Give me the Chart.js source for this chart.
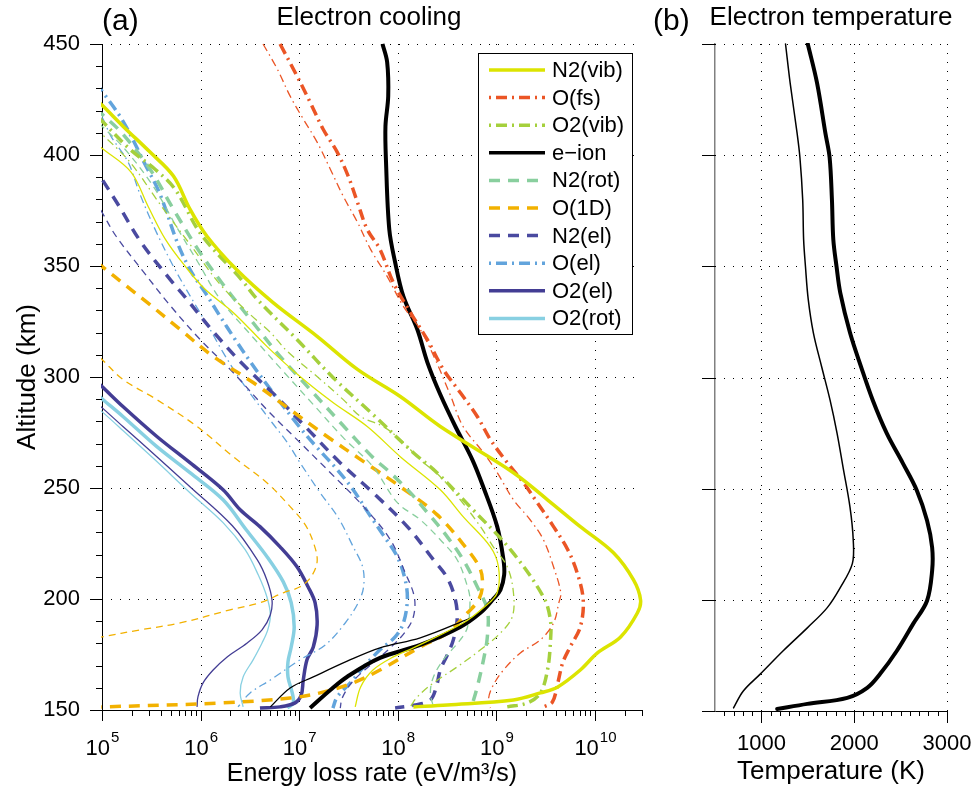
<!DOCTYPE html>
<html>
<head>
<meta charset="utf-8">
<script src="https://cdn.jsdelivr.net/npm/chart.js@4.4.0/dist/chart.umd.min.js"></script>
<style>
  body { margin: 0; background: #fff; width: 975px; height: 804px; overflow: hidden; position: relative; }
  canvas { position: absolute; top: 0; }
  #cooling { left: 0; }
  #temp { left: 640px; }
</style>
</head>
<body>
<canvas id="cooling" width="660" height="804"></canvas>
<canvas id="temp" width="335" height="804"></canvas>
<script>
"use strict";

// ---- panel (a): cooling rates, eV/m^3/s vs altitude (km); thick and thin profiles ----
const seriesNames = ['N2(vib)', 'O(fs)', 'O2(vib)', 'e\u2212ion', 'N2(rot)', 'O(1D)', 'N2(el)', 'O(el)', 'O2(el)', 'O2(rot)'];
const seriesColors = ['#dce400', '#eb5525', '#a5d03c', '#000000', '#89cf9e', '#f2b100', '#4a4aa0', '#62a4dc', '#433d94', '#88d0e2'];
const seriesStyles = ['solid', 'dashdot', 'dashdot', 'solid', 'dashed', 'dashed', 'dashed', 'dashdot', 'solid', 'solid'];

const n2vibThickAlt = [431, 422.5, 413, 401.3, 390.5, 375.6, 363.4, 348.5, 333.6, 318.3, 303.4, 291.2, 277.7, 256.9, 244.7, 232.6, 220.8, 208.6, 199.6, 193.8, 182.9, 175.7, 168, 160.4, 157.7, 154.5, 152.3, 151.4];
const n2vibThick = [6.3e4, 1.0e5, 1.63e5, 3.07e5, 5.3e5, 7.8e5, 1.16e6, 2.3e6, 5.4e6, 1.52e7, 3.9e7, 1.06e8, 2.7e8, 1.49e9, 3.3e9, 7.1e9, 1.54e10, 2.46e10, 2.9e10, 2.7e10, 1.82e10, 1.06e10, 7.1e9, 4.2e9, 2.8e9, 1.49e9, 3.18e8, 1.44e8];
const n2vibThinAlt = [410, 403, 392.3, 376.9, 362, 349.8, 339.5, 329.1, 313.8, 300.2, 288.5, 277.7, 264.1, 249.2, 237.1, 223.5, 214.5, 202.8, 196.5, 189.2, 178, 173.9, 168, 160.4, 151.4];
const n2vibThin = [6.3e4, 1.0e5, 1.97e5, 2.93e5, 4.4e5, 7.0e5, 1.11e6, 2.14e6, 4.7e6, 1.02e7, 2.2e7, 4.9e7, 1.06e8, 2.7e8, 4.6e8, 8.7e8, 1.05e9, 1.02e9, 7.6e8, 4.6e8, 1.44e8, 9.0e7, 5.6e7, 4.2e7, 3.7e7];

const ofsThickAlt = [450, 435.6, 423.8, 411.6, 401.3, 390.5, 378.7, 366.5, 357.5, 342.6, 329.1, 316.9, 303.4, 293, 282.2, 271.8, 261.4, 252.4, 243.4, 232.6, 222.2, 211.8, 199.6, 187.4, 178.4, 171.2, 162.2, 153.6, 151.4];
const ofsThick = [6.4e6, 9.5e6, 1.29e7, 1.75e7, 2.43e7, 3.14e7, 3.9e7, 4.9e7, 6.6e7, 9.0e7, 1.34e8, 1.99e8, 2.9e8, 4.3e8, 6.4e8, 8.7e8, 1.29e9, 1.88e9, 2.6e9, 3.8e9, 5.3e9, 6.6e9, 7.6e9, 7.1e9, 5.6e9, 4.7e9, 4.2e9, 3.7e9, 3.0e9];
const ofsThinAlt = [450, 438.7, 426.5, 416.2, 405.8, 393.6, 381.4, 369.7, 357.5, 345.3, 331.8, 321.4, 307.9, 292, 277.7, 265.9, 256.9, 244.7, 235.7, 226.7, 214.5, 202.8, 198.3, 189.2, 181.6, 175.7, 168, 160.4, 154.5, 150.9];
const ofsThin = [4.3e6, 6.0e6, 8.1e6, 1.10e7, 1.52e7, 2.07e7, 2.8e7, 3.9e7, 5.3e7, 7.8e7, 1.14e8, 1.69e8, 2.4e8, 3.4e8, 4.6e8, 7.4e8, 1.02e9, 1.49e9, 2.2e9, 3.0e9, 3.8e9, 4.5e9, 4.3e9, 3.8e9, 2.8e9, 1.75e9, 1.18e9, 9.1e8, 8.3e8, 8.7e8];

const o2vibThickAlt = [424, 415.3, 402.6, 393.6, 384.6, 364.3, 344, 335, 316.9, 299.8, 283.1, 265.9, 256.9, 241.6, 222.2, 201, 190.6, 180.2, 168, 157.7, 153.2, 151.4];
const o2vibThick = [6.3e4, 1.0e5, 1.92e5, 3.45e5, 5.5e5, 1.01e6, 2.58e6, 3.75e6, 9.5e6, 2.2e7, 5.6e7, 1.44e8, 2.5e8, 5.4e8, 1.39e9, 3.0e9, 3.53e9, 3.53e9, 3.3e9, 2.8e9, 2.07e9, 1.29e9];
const o2vibThinAlt = [418, 409.4, 396.8, 377.8, 359.8, 341.7, 328.2, 320.1, 311.5, 300.2, 289.8, 282.2, 277.7, 271.8, 262.8, 255.1, 244.7, 232.6, 223.5, 214.5, 202.8, 192, 184.7, 177.1, 169.4, 162.2, 155.9, 151.4];
const o2vibThin = [6.3e4, 1.0e5, 1.92e5, 3.88e5, 7.8e5, 1.58e6, 3.18e6, 5.1e6, 7.6e6, 1.52e7, 2.8e7, 4.2e7, 7.1e7, 1.06e8, 1.69e8, 2.7e8, 4.3e8, 6.9e8, 9.3e8, 1.29e9, 1.49e9, 1.45e9, 1.10e9, 6.9e8, 4.0e8, 2.3e8, 1.58e8, 1.34e8];

const eionThickAlt = [450, 441.9, 426.5, 413, 396.8, 366.5, 351.7, 336.3, 321.4, 306.5, 292.1, 277.7, 262.8, 250.2, 232.6, 217.7, 210.9, 204.1, 200, 193.8, 187.4, 179.3, 173.5, 165, 159, 150.9];
const eionThick = [7.0e7, 7.8e7, 8.0e7, 7.5e7, 7.6e7, 8.2e7, 9.4e7, 1.14e8, 1.58e8, 2.0e8, 2.7e8, 3.84e8, 5.7e8, 7.4e8, 1.02e9, 1.18e9, 1.2e9, 1.1e9, 9.3e8, 6.9e8, 4.3e8, 1.69e8, 6.6e7, 3.07e7, 2.07e7, 1.29e7];
const eionThinAlt = [450, 441.9, 426.5, 413, 396.8, 366.5, 351.7, 336.3, 321.4, 306.5, 292.1, 277.7, 262.8, 250.2, 232.6, 217.7, 210.9, 204.1, 200, 193.8, 189.7, 182.5, 178, 172, 164.9, 159.9, 151.4];
const eionThin = [7.0e7, 7.7e7, 7.9e7, 7.5e7, 7.6e7, 8.1e7, 9.3e7, 1.13e8, 1.56e8, 2.0e8, 2.7e8, 3.8e8, 5.6e8, 7.3e8, 1.0e9, 1.17e9, 1.19e9, 1.09e9, 9.2e8, 6.9e8, 4.4e8, 1.69e8, 6.6e7, 3.07e7, 1.39e7, 8.1e6, 5.1e6];

const n2rotThickAlt = [427, 418.4, 410.3, 393.6, 375.6, 357.5, 341.7, 325, 309.3, 294.4, 278.6, 264.1, 256.9, 247.9, 238.9, 228, 217.7, 205.5, 195.1, 182.9, 172.6, 160.4, 151.4];
const n2rotThick = [6.3e4, 1.0e5, 1.56e5, 3.07e5, 5.3e5, 9.4e5, 1.69e6, 3.33e6, 6.4e6, 1.29e7, 2.73e7, 5.5e7, 8.4e7, 1.34e8, 2.0e8, 3.18e8, 4.6e8, 6.4e8, 8.1e8, 8.1e8, 7.4e8, 6.4e8, 5.6e8];
const n2rotThinAlt = [422, 413, 402.6, 386, 366.5, 351.7, 335, 317.8, 302.5, 287.6, 272.7, 259.6, 243.4, 235.7, 226.7, 217.7, 205.5, 199.6, 187.4, 181.6, 172.6, 164.9, 157.7, 151.4];
const n2rotThin = [6.3e4, 1.0e5, 1.71e5, 3.3e5, 5.9e5, 9.4e5, 1.58e6, 3.41e6, 6.9e6, 1.39e7, 2.8e7, 5.6e7, 9.9e7, 1.69e8, 2.7e8, 4.0e8, 5.1e8, 5.4e8, 5.1e8, 4.3e8, 2.9e8, 2.3e8, 2.14e8, 2.3e8];

const o1dThickAlt = [357, 349.8, 340.8, 333.6, 321.4, 309.3, 297.5, 285.3, 273.2, 261.9, 250.6, 238, 222.2, 213.2, 205.5, 199.6, 193.8, 184.7, 178.4, 168, 162.2, 157.7, 155.4, 153.2, 151.4, 151.2];
const o1dThick = [6.3e4, 1.0e5, 1.79e5, 2.87e5, 6.2e5, 1.34e6, 3.41e6, 8.1e6, 1.92e7, 4.5e7, 1.06e8, 2.5e8, 5.1e8, 6.9e8, 7.2e8, 6.6e8, 5.1e8, 3.18e8, 1.69e8, 6.6e7, 3.5e7, 1.63e7, 8.1e6, 1.69e6, 1.0e5, 5.0e4];
const o1dThinAlt = [316, 307.9, 298.9, 289.8, 277.7, 264.1, 252.4, 241.6, 233.5, 224.4, 216.8, 210, 205.5, 202.8, 198.3, 195.1, 189.2, 186.1, 182.9, 181];
const o1dThin = [6.3e4, 1.0e5, 1.63e5, 3.6e5, 9.2e5, 2.14e6, 4.7e6, 8.1e6, 1.15e7, 1.42e7, 1.52e7, 1.32e7, 1.02e7, 6.9e6, 4.0e6, 1.99e6, 6.2e5, 2.43e5, 1.0e5, 6.3e4];

const n2elThickAlt = [403, 389.1, 377.8, 360.7, 344, 335.9, 320.5, 305.6, 290.7, 275.4, 261.4, 247.9, 232.6, 217.7, 209.5, 199.6, 190.6, 181.6, 174.8, 168, 160.4, 154.5, 152.3, 150.9];
const n2elThick = [6.3e4, 1.0e5, 1.45e5, 2.49e5, 4.9e5, 7.0e5, 1.34e6, 2.7e6, 6.0e6, 1.29e7, 2.6e7, 5.6e7, 1.25e8, 2.3e8, 3.18e8, 3.84e8, 4.0e8, 3.66e8, 3.18e8, 2.7e8, 2.46e8, 2.14e8, 1.51e8, 9.4e7];
const n2elThinAlt = [389, 374.2, 363.4, 347.6, 331.8, 316.9, 302, 285.3, 271.8, 256.9, 241.6, 226.7, 211.8, 201, 192, 185.2, 178, 170.3, 162.6, 155.4, 150.9];
const n2elThin = [6.3e4, 1.0e5, 1.39e5, 2.61e5, 5.0e5, 9.9e5, 2.14e6, 4.7e6, 9.5e6, 2.07e7, 4.5e7, 8.4e7, 1.19e8, 1.47e8, 1.44e8, 1.19e8, 8.4e7, 5.3e7, 3.45e7, 2.73e7, 2.61e7];

const oelThickAlt = [441, 428.8, 415.3, 395.9, 382.3, 359.8, 347.6, 338.1, 327.3, 316.9, 307, 296.6, 277.2, 268.2, 258.3, 249.2, 238.9, 228.9, 219, 208.6, 199.6, 189.2, 182.9, 177.1, 170.3, 162.2, 155.9, 150.9];
const oelThick = [6.3e4, 1.0e5, 1.63e5, 2.73e5, 3.88e5, 5.9e5, 8.0e5, 1.11e6, 1.58e6, 2.24e6, 3.18e6, 4.7e6, 1.02e7, 1.52e7, 2.43e7, 3.53e7, 5.0e7, 7.1e7, 9.9e7, 1.19e8, 1.25e8, 1.14e8, 9.4e7, 6.6e7, 4.7e7, 3.3e7, 2.43e7, 2.2e7];
const oelThinAlt = [430, 417.1, 408.5, 396.8, 382.3, 365.6, 348.5, 332.7, 321.4, 311.1, 298.9, 289, 279.5, 270.4, 261.4, 247.9, 236.6, 223.5, 214.5, 205.5, 198.3, 189.2, 179.3, 172.6, 163.5, 157.7, 151.4];
const oelThin = [6.3e4, 1.0e5, 1.23e5, 1.84e5, 2.43e5, 3.53e5, 5.5e5, 8.8e5, 1.25e6, 1.69e6, 2.52e6, 3.66e6, 5.3e6, 7.6e6, 1.02e7, 1.63e7, 2.49e7, 3.53e7, 4.4e7, 4.5e7, 3.97e7, 2.93e7, 1.84e7, 1.02e7, 5.1e6, 3.18e6, 2.4e6];

const o2elThickAlt = [304, 295.7, 286.7, 273.2, 261.4, 249.2, 240.2, 232.6, 223.5, 214.5, 205.5, 198.3, 188.3, 178.4, 172.6, 163.5, 156.8, 153.2, 151.4, 150.9];
const o2elThick = [6.3e4, 1.0e5, 1.63e5, 3.6e5, 7.8e5, 1.69e6, 2.52e6, 4.0e6, 6.4e6, 9.5e6, 1.23e7, 1.45e7, 1.52e7, 1.39e7, 1.2e7, 1.10e7, 1.05e7, 9.1e6, 6.4e6, 4.0e6];
const o2elThinAlt = [294, 286.2, 277.7, 264.1, 250.6, 233, 217.7, 208.6, 199.6, 192.9, 186.1, 180.2, 173.9, 168, 162.2, 155.9, 151.4];
const o2elThin = [6.3e4, 1.0e5, 1.63e5, 3.6e5, 7.8e5, 2.1e6, 3.75e6, 4.7e6, 5.3e6, 5.1e6, 4.2e6, 2.97e6, 1.86e6, 1.34e6, 1.06e6, 9.4e5, 9.2e5];

const o2rotThickAlt = [298, 290.2, 282.2, 268.6, 256.9, 244.7, 231.2, 218.6, 207.7, 198.3, 187.4, 178.4, 171.7, 164.9, 157.7, 153.2, 150.9];
const o2rotThick = [6.3e4, 1.0e5, 1.63e5, 3.6e5, 7.8e5, 1.69e6, 2.9e6, 4.8e6, 6.9e6, 8.3e6, 8.9e6, 8.3e6, 7.7e6, 7.7e6, 8.5e6, 8.7e6, 7.6e6];
const o2rotThinAlt = [292, 284.4, 275.9, 261.9, 247.9, 234.4, 222.2, 210.9, 201, 192.9, 186.1, 180.2, 172.6, 164.9, 157.7, 151.4];
const o2rotThin = [6.3e4, 1.0e5, 1.63e5, 3.6e5, 7.8e5, 1.69e6, 2.83e6, 3.84e6, 4.7e6, 5.1e6, 4.8e6, 4.2e6, 3.41e6, 2.7e6, 2.52e6, 2.7e6];

const thickAlts = [n2vibThickAlt, ofsThickAlt, o2vibThickAlt, eionThickAlt, n2rotThickAlt, o1dThickAlt, n2elThickAlt, oelThickAlt, o2elThickAlt, o2rotThickAlt];
const thickRates = [n2vibThick, ofsThick, o2vibThick, eionThick, n2rotThick, o1dThick, n2elThick, oelThick, o2elThick, o2rotThick];
const thinAlts = [n2vibThinAlt, ofsThinAlt, o2vibThinAlt, eionThinAlt, n2rotThinAlt, o1dThinAlt, n2elThinAlt, oelThinAlt, o2elThinAlt, o2rotThinAlt];
const thinRates = [n2vibThin, ofsThin, o2vibThin, eionThin, n2rotThin, o1dThin, n2elThin, oelThin, o2elThin, o2rotThin];

// ---- panel (b): electron temperature (K) vs altitude (km) ----
const teThickAlt = [450, 432.4, 409.8, 399, 380, 362, 349.8, 338.1, 320.1, 304.7, 289.8, 275, 261.4, 249.2, 235.7, 223.5, 213.2, 199.6, 189.2, 177.1, 166.7, 160.4, 155.9, 153.2, 150.9];
const teThick = [1500, 1600, 1690, 1735, 1760, 1775, 1810, 1850, 1955, 2075, 2200, 2350, 2525, 2675, 2785, 2840, 2840, 2785, 2635, 2460, 2280, 2140, 1925, 1495, 1170];
const teThinAlt = [450, 432.4, 409.8, 399, 380, 362, 349.8, 335, 320.1, 304.7, 289.8, 275, 259.6, 241.6, 226.7, 216.3, 205.5, 196.5, 187.4, 177.1, 166.7, 159, 151.4];
const teThin = [1260, 1310, 1385, 1415, 1445, 1455, 1475, 1505, 1560, 1650, 1740, 1815, 1880, 1955, 1990, 1980, 1850, 1710, 1495, 1235, 990, 805, 700];

const altTicks = [150, 200, 250, 300, 350, 400, 450];
const rateDecades = [5, 6, 7, 8, 9, 10];
const tempTicks = [1000, 2000, 3000];

const FONT = "'Liberation Sans', Arial, Helvetica, sans-serif";
Chart.defaults.font.family = FONT;
Chart.defaults.color = '#000';

const dashFor = (style, thick) => {
  if (style === 'dashed') return thick ? [11, 8] : [7, 5];
  if (style === 'dashdot') return thick ? [11, 5, 2, 5] : [8, 4, 1.5, 4];
  return [];
};

const makeSet = (label, alt, rate, color, style, width, thick) => ({
  label: label,
  data: alt.map((a, i) => ({ x: rate[i], y: a })),
  showLine: true,
  borderColor: color,
  backgroundColor: color,
  borderWidth: width,
  borderDash: dashFor(style, thick),
  pointRadius: 0,
  pointHoverRadius: 0,
  fill: false,
  clip: 1
});

const coolingSets = [];
seriesNames.forEach((name, i) => {
  const w = i === 3 ? 4 : 3.5;
  coolingSets.push(makeSet(name + ' (thin)', thinAlts[i], thinRates[i], seriesColors[i], seriesStyles[i], 1.3, false));
  coolingSets.push(makeSet(name, thickAlts[i], thickRates[i], seriesColors[i], seriesStyles[i], w, true));
});

const line = (ctx, x1, y1, x2, y2) => {
  ctx.beginPath();
  ctx.moveTo(x1, y1);
  ctx.lineTo(x2, y2);
  ctx.stroke();
};
const px = v => Math.round(v) + 0.5;

const coolingDecor = {
  id: 'coolingDecor',
  beforeDatasetsDraw(chart) {
    const { ctx, chartArea: a, scales: { x, y } } = chart;
    ctx.save();
    ctx.strokeStyle = '#000';
    ctx.lineWidth = 1;
    ctx.setLineDash([1, 8]);
    rateDecades.forEach(e => {
      if (e === 5) return;
      const xx = px(x.getPixelForValue(Math.pow(10, e)));
      line(ctx, xx, a.top, xx, a.bottom);
    });
    altTicks.forEach(v => {
      if (v === 150) return;
      const yy = px(y.getPixelForValue(v));
      line(ctx, a.left, yy, a.right, yy);
    });
    ctx.restore();
  },
  afterDatasetsDraw(chart) {
    const { ctx, chartArea: a, scales: { x, y } } = chart;
    ctx.save();
    ctx.strokeStyle = '#000';
    ctx.lineWidth = 1;
    // tick marks
    for (let v = 160; v < 450; v += 10) {
      if (v % 50 === 0) continue;
      const yy = px(y.getPixelForValue(v));
      line(ctx, a.left - 6, yy, a.left, yy);
    }
    altTicks.forEach(v => {
      const yy = px(y.getPixelForValue(v));
      line(ctx, a.left - 12, yy, a.left, yy);
    });
    rateDecades.forEach(e => {
      for (let m = 1; m <= 9; m++) {
        const v = m * Math.pow(10, e);
        if (v > x.max * 1.0001) break;
        const xx = px(x.getPixelForValue(v));
        line(ctx, xx, a.bottom, xx, a.bottom + (m === 1 ? 11 : 6));
      }
    });
    // decade labels 10^n
    ctx.fillStyle = '#000';
    ctx.textBaseline = 'alphabetic';
    ctx.textAlign = 'left';
    rateDecades.forEach(e => {
      const xx = x.getPixelForValue(Math.pow(10, e));
      ctx.font = '22px ' + FONT;
      const wBase = ctx.measureText('10').width;
      ctx.font = '15px ' + FONT;
      const wExp = ctx.measureText(String(e)).width;
      const x0 = xx - (wBase + wExp) / 2;
      ctx.font = '22px ' + FONT;
      ctx.fillText('10', x0, 755);
      ctx.font = '15px ' + FONT;
      ctx.fillText(String(e), x0 + wBase + 1, 742);
    });
    // legend
    const lx = 478, ly = 53, lw = 154, lh = 281;
    ctx.fillStyle = '#fff';
    ctx.fillRect(lx, ly, lw, lh);
    ctx.strokeStyle = '#000';
    ctx.strokeRect(lx + 0.5, ly + 0.5, lw, lh);
    seriesNames.forEach((name, i) => {
      const yy = 70 + i * 27.6;
      ctx.strokeStyle = seriesColors[i];
      ctx.lineWidth = 3.5;
      ctx.setLineDash(dashFor(seriesStyles[i], true));
      ctx.lineDashOffset = seriesStyles[i] === 'dashdot' ? 16 : 0;
      line(ctx, 489, yy, 545, yy);
      ctx.setLineDash([]);
      ctx.lineDashOffset = 0;
      ctx.fillStyle = '#000';
      ctx.font = '22px ' + FONT;
      ctx.textBaseline = 'middle';
      ctx.fillText(name, 552, yy + 1);
    });
    // panel titles
    ctx.textBaseline = 'alphabetic';
    ctx.font = '30px ' + FONT;
    ctx.textAlign = 'left';
    ctx.fillText('(a)', 102, 30);
    ctx.font = '26px ' + FONT;
    ctx.textAlign = 'center';
    ctx.fillText('Electron cooling', 369, 25);
    ctx.restore();
  }
};

new Chart(document.getElementById('cooling'), {
  type: 'scatter',
  data: { datasets: coolingSets },
  options: {
    responsive: false,
    animation: false,
    devicePixelRatio: 1,
    layout: { padding: { top: 44, right: 18, left: 0, bottom: 0 } },
    elements: { line: { tension: 0.35, capBezierPoints: false, borderCapStyle: 'butt', borderJoinStyle: 'round' } },
    plugins: { legend: { display: false }, tooltip: { enabled: false } },
    scales: {
      x: {
        type: 'logarithmic', min: 1e5, max: 3e10,
        grid: { display: false },
        border: { color: '#000', width: 1 },
        ticks: { display: false },
        title: { display: true, text: 'Energy loss rate (eV/m\u00b3/s)', font: { size: 25 }, padding: { top: 0, bottom: 15 } },
        afterFit: s => { s.height = 94; }
      },
      y: {
        type: 'linear', min: 150, max: 450,
        grid: { display: false },
        border: { color: '#000', width: 1 },
        ticks: { stepSize: 50, font: { size: 22 }, padding: 14 },
        title: { display: true, text: 'Altitude (km)', font: { size: 26 }, padding: { top: 12, bottom: 0 } },
        afterFit: s => { s.width = 102; }
      }
    }
  },
  plugins: [coolingDecor]
});

const tempDecor = {
  id: 'tempDecor',
  beforeDatasetsDraw(chart) {
    const { ctx, chartArea: a, scales: { x, y } } = chart;
    ctx.save();
    ctx.strokeStyle = '#000';
    ctx.lineWidth = 1;
    ctx.setLineDash([1, 8]);
    tempTicks.forEach(v => {
      const xx = px(x.getPixelForValue(v));
      line(ctx, xx, a.top, xx, a.bottom);
    });
    altTicks.forEach(v => {
      if (v === 150) return;
      const yy = px(y.getPixelForValue(v));
      line(ctx, a.left, yy, a.right, yy);
    });
    ctx.restore();
  },
  afterDatasetsDraw(chart) {
    const { ctx, chartArea: a, scales: { x, y } } = chart;
    ctx.save();
    ctx.strokeStyle = '#000';
    ctx.lineWidth = 1;
    altTicks.forEach(v => {
      const yy = px(y.getPixelForValue(v));
      line(ctx, a.left - 13, yy, a.left, yy);
    });
    for (let v = 600; v <= 3000; v += 100) {
      const xx = px(x.getPixelForValue(v));
      line(ctx, xx, a.bottom, xx, a.bottom + (v % 1000 === 0 ? 12 : 5));
    }
    ctx.fillStyle = '#000';
    ctx.textBaseline = 'alphabetic';
    ctx.textAlign = 'center';
    ctx.font = '22px ' + FONT;
    tempTicks.forEach(v => {
      ctx.fillText(String(v), x.getPixelForValue(v), 750);
    });
    ctx.font = '30px ' + FONT;
    ctx.textAlign = 'left';
    ctx.fillText('(b)', 13, 30);
    ctx.font = '26px ' + FONT;
    ctx.textAlign = 'center';
    ctx.fillText('Electron temperature', (a.left + a.right) / 2, 25);
    ctx.restore();
  }
};

new Chart(document.getElementById('temp'), {
  type: 'scatter',
  data: {
    datasets: [
      makeSet('Te (thin)', teThinAlt, teThin, '#000', 'solid', 1.5, false),
      makeSet('Te', teThickAlt, teThick, '#000', 'solid', 4, true)
    ]
  },
  options: {
    responsive: false,
    animation: false,
    devicePixelRatio: 1,
    layout: { padding: { top: 44, right: 28, left: 0, bottom: 0 } },
    elements: { line: { tension: 0.35, capBezierPoints: false, borderCapStyle: 'round' } },
    plugins: { legend: { display: false }, tooltip: { enabled: false } },
    scales: {
      x: {
        type: 'linear', min: 500, max: 3000,
        grid: { display: false },
        border: { color: '#000', width: 1 },
        ticks: { display: false },
        title: { display: true, text: 'Temperature (K)', font: { size: 26 }, padding: { top: 0, bottom: 17 } },
        afterFit: s => { s.height = 93; }
      },
      y: {
        type: 'linear', min: 150, max: 450,
        grid: { display: false },
        border: { color: '#808080', width: 1.5 },
        ticks: { display: false, stepSize: 50 },
        afterFit: s => { s.width = 75; }
      }
    }
  },
  plugins: [tempDecor]
});
</script>
</body>
</html>
